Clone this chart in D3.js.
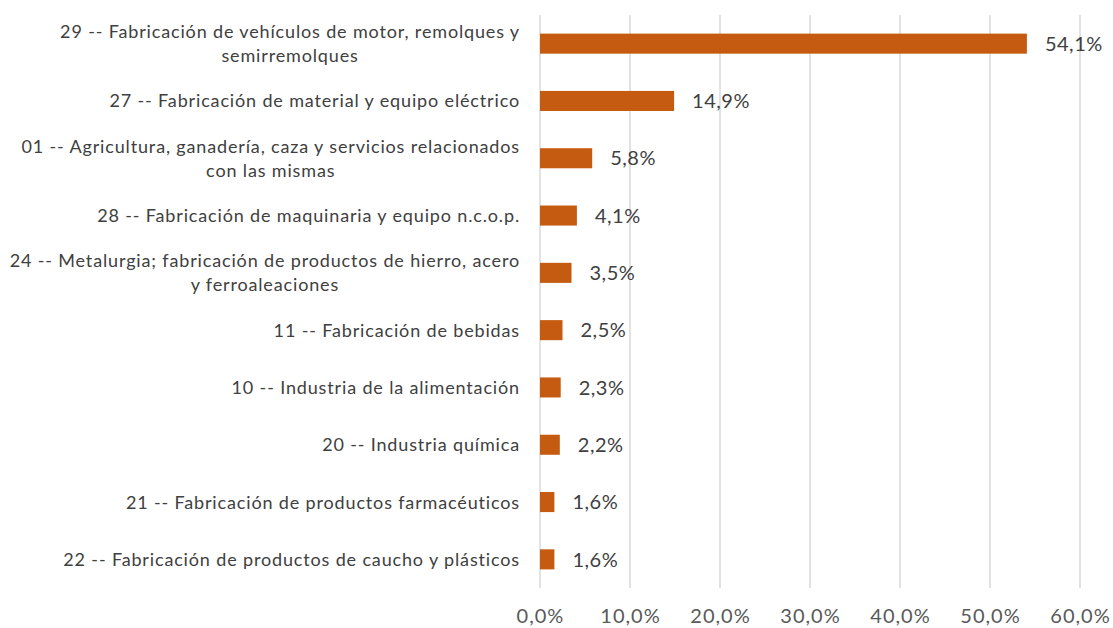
<!DOCTYPE html>
<html>
<head>
<meta charset="utf-8">
<script src="https://cdn.jsdelivr.net/npm/d3@7"></script>
<style>
  body { margin: 0; background: #fff; }
  text { font-family: Lato, "Open Sans", sans-serif; fill: #404040; }
</style>
</head>
<body>
<div id="chart-area"></div>
<script>
// Data
const categories = [
  ["29 -- Fabricación de vehículos de motor, remolques y", "semirremolques"],
  ["27 -- Fabricación de material y equipo eléctrico"],
  ["01 -- Agricultura, ganadería, caza y servicios relacionados", "con las mismas"],
  ["28 -- Fabricación de maquinaria y equipo n.c.o.p."],
  ["24 -- Metalurgia; fabricación de productos de hierro, acero", "y ferroaleaciones"],
  ["11 -- Fabricación de bebidas"],
  ["10 -- Industria de la alimentación"],
  ["20 -- Industria química"],
  ["21 -- Fabricación de productos farmacéuticos"],
  ["22 -- Fabricación de productos de caucho y plásticos"]
]
const values = [54.1, 14.9, 5.8, 4.1, 3.5, 2.5, 2.3, 2.2, 1.6, 1.6]
const xTicks = [0, 10, 20, 30, 40, 50, 60]

const W = 1113, H = 628
const MARGIN = { LEFT: 540, RIGHT: 33, TOP: 15, BOTTOM: 40 }
const WIDTH = W - MARGIN.LEFT - MARGIN.RIGHT
const HEIGHT = H - MARGIN.TOP - MARGIN.BOTTOM

const fmt = v => d3.format(".1f")(v).replace(".", ",") + "%"

const svg = d3.select("#chart-area").append("svg")
  .attr("width", W)
  .attr("height", H)

const g = svg.append("g")
  .attr("transform", `translate(${MARGIN.LEFT}, ${MARGIN.TOP})`)

const x = d3.scaleLinear().domain([0, 60]).range([0, WIDTH])
const y = d3.scaleBand()
  .domain(d3.range(values.length))
  .range([0, HEIGHT])
  .paddingInner(0.65)
  .paddingOuter(0.325)

// Gridlines
g.append("g")
  .selectAll("line")
  .data(xTicks)
  .enter().append("line")
  .attr("x1", d => x(d)).attr("x2", d => x(d))
  .attr("y1", 0).attr("y2", HEIGHT)
  .attr("stroke", "#d9d9d9")
  .attr("stroke-width", 1.5)

// X axis labels
const xAxis = g.append("g")
  .attr("transform", `translate(0, ${HEIGHT})`)
  .call(d3.axisBottom(x).tickValues(xTicks).tickFormat(fmt).tickSize(0).tickPadding(21))
xAxis.select(".domain").remove()
xAxis.selectAll("text")
  .attr("font-size", "20px")
  .attr("font-family", null)
  .style("fill", "#595959")
  .style("letter-spacing", "1px")

// Bars
g.selectAll("rect")
  .data(values)
  .enter().append("rect")
  .attr("x", 0)
  .attr("y", (d, i) => y(i))
  .attr("width", d => x(d))
  .attr("height", y.bandwidth())
  .attr("fill", "#c55a11")

// Value labels
g.selectAll(".val")
  .data(values)
  .enter().append("text")
  .attr("class", "val")
  .attr("x", d => x(d) + 18)
  .attr("y", (d, i) => y(i) + y.bandwidth() / 2)
  .attr("dy", "0.36em")
  .attr("font-size", "20px")
  .style("letter-spacing", "0.5px")
  .text(d => fmt(d))

// Category labels (wrapped lines centred on their own block, block right aligned)
const lineH = 24
categories.forEach((lines, i) => {
  const cy = y(i) + y.bandwidth() / 2
  const grp = g.append("g")
  const texts = lines.map((l, j) => grp.append("text")
    .attr("font-size", "18px")
    .style("letter-spacing", "0.85px")
    .attr("dy", "0.36em")
    .attr("y", cy + (j - (lines.length - 1) / 2) * lineH)
    .text(l))
  const maxW = d3.max(texts, t => t.node().getComputedTextLength())
  const center = -20 - maxW / 2
  texts.forEach(t => t.attr("x", center).attr("text-anchor", "middle"))
})
</script>
</body>
</html>
